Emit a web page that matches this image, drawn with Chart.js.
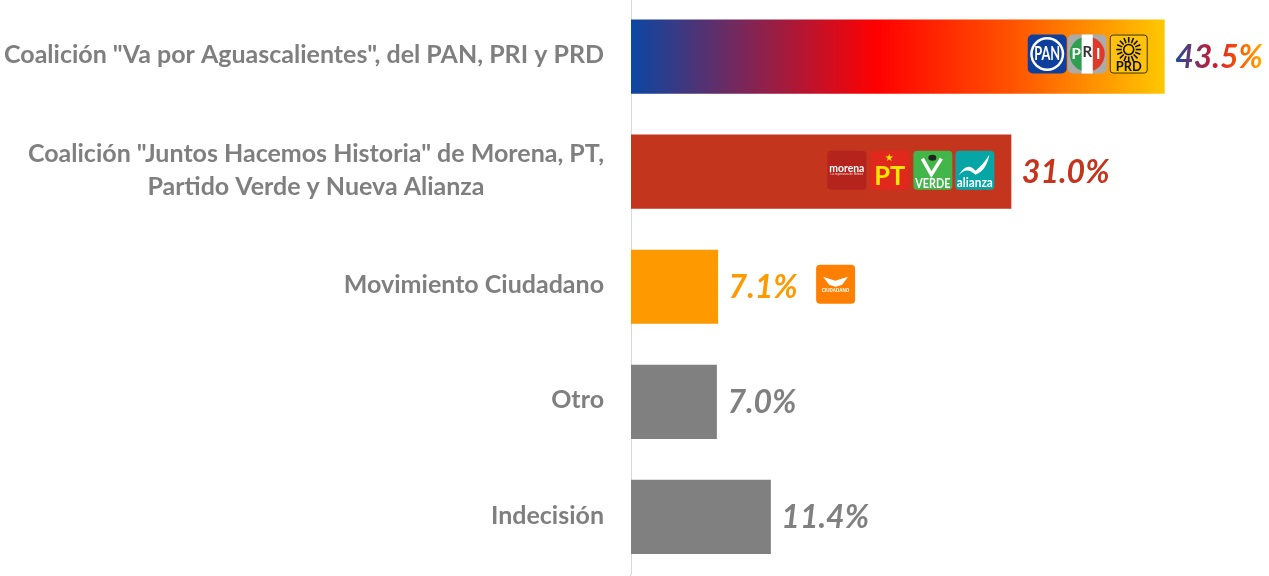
<!DOCTYPE html>
<html><head><meta charset="utf-8">
<style>html,body{margin:0;padding:0;background:#fff;overflow:hidden;width:1269px;height:576px}canvas{position:absolute;left:0;top:-1px}</style>
<script src="https://cdn.jsdelivr.net/npm/chart.js@4"></script></head>
<body><canvas id="c" width="1269" height="578"></canvas>
<script>
const categories = [
  ['Coalición "Va por Aguascalientes", del PAN, PRI y PRD'],
  ['Coalición "Juntos Hacemos Historia" de Morena, PT,', 'Partido Verde y Nueva Alianza'],
  ['Movimiento Ciudadano'],
  ['Otro'],
  ['Indecisión']
];
const values = [43.5, 31.0, 7.1, 7.0, 11.4];
const valueLabels = ['43.5%', '31.0%', '7.1%', '7.0%', '11.4%'];
const barColors = [null, '#c4351e', '#ff9900', '#808080', '#808080'];

const FONT = 'Lato, Carlito, "Open Sans", sans-serif';

function rr(c, x, y, w, h, r, fill) {
  c.beginPath(); c.roundRect(x, y, w, h, r); c.fillStyle = fill; c.fill();
}
function txt(c, s, x, y, font, color, maxW) {
  c.font = font; c.fillStyle = color; c.textAlign = 'center'; c.textBaseline = 'middle';
  if (maxW) c.fillText(s, x, y, maxW); else c.fillText(s, x, y);
}
const logos = {
  pan(c, x, y) {
    rr(c, x, y, 39, 39, 5, '#0f3f9c');
    c.beginPath(); c.arc(x + 19.5, y + 19.5, 17, 0, 7); c.fillStyle = '#fff'; c.fill();
    c.beginPath(); c.arc(x + 19.5, y + 19.5, 14.5, 0, 7); c.fillStyle = '#0f3f9c'; c.fill();
    txt(c, 'PAN', x + 19.5, y + 20, 'bold 18px Lato', '#fff', 26);
  },
  pri(c, x, y) {
    rr(c, x, y, 39, 39, 5, '#ababab');
    c.save(); c.beginPath(); c.arc(x + 19.5, y + 19.5, 17.5, 0, 7); c.clip();
    c.fillStyle = '#2e9e4f'; c.fillRect(x, y, 14, 39);
    c.fillStyle = '#dd3a2a'; c.fillRect(x + 25, y, 14, 39);
    c.restore();
    c.fillStyle = '#fff'; c.fillRect(x + 14, y, 11, 39);
    txt(c, 'P', x + 8.5, y + 20, 'bold 15px Lato', '#fff');
    txt(c, 'R', x + 19.5, y + 18, 'bold 15px Lato', '#333');
    txt(c, 'I', x + 30.5, y + 20, 'bold 15px Lato', '#fff');
  },
  prd(c, x, y) {
    rr(c, x, y, 38, 39, 3, '#ffc20e');
    c.strokeStyle = '#3a3000'; c.lineWidth = 1; c.beginPath(); c.roundRect(x + .5, y + .5, 37, 38, 3); c.stroke();
    const cx = x + 19, cy = y + 15;
    c.strokeStyle = '#111'; c.lineWidth = 1.6;
    for (let i = 0; i < 16; i++) {
      const a = i * Math.PI / 8;
      c.beginPath(); c.moveTo(cx + 7 * Math.cos(a), cy + 7 * Math.sin(a)); c.lineTo(cx + 12.5 * Math.cos(a), cy + 12.5 * Math.sin(a)); c.stroke();
    }
    c.beginPath(); c.arc(cx, cy, 5, 0, 7); c.stroke();
    txt(c, 'PRD', x + 19, y + 32, 'bold 13px Lato', '#111', 26);
  },
  morena(c, x, y) {
    rr(c, x, y, 39, 39, 4, '#b5241c');
    txt(c, 'morena', x + 19.5, y + 18, 'bold 11px Lato', '#fff', 35);
    txt(c, 'La esperanza de México', x + 19.5, y + 24, '3px "Liberation Sans"', '#f2d5d0');
  },
  pt(c, x, y) {
    rr(c, x, y, 39, 39, 4, '#e0281c');
    txt(c, '★', x + 19, y + 8, '10px "DejaVu Sans"', '#ffe600');
    txt(c, 'PT', x + 19.5, y + 26, 'bold 26px Lato', '#ffe600', 31);
  },
  verde(c, x, y) {
    rr(c, x, y, 39, 39, 4, '#43b649');
    c.strokeStyle = '#fff'; c.lineWidth = 3.5;
    c.beginPath(); c.moveTo(x + 9, y + 8); c.lineTo(x + 18, y + 24); c.lineTo(x + 28, y + 8); c.stroke();
    c.fillStyle = '#222'; c.beginPath(); c.ellipse(x + 19, y + 7, 4, 3, 0, 0, 7); c.fill();
    txt(c, 'VERDE', x + 19.5, y + 32.5, 'bold 14px Lato', '#fff', 35);
  },
  alianza(c, x, y) {
    rr(c, x, y, 39, 39, 4, '#06a6a6');
    c.fillStyle = '#fff';
    c.beginPath(); c.moveTo(x + 3, y + 25); c.quadraticCurveTo(x + 12, y + 10, x + 20, y + 20);
    c.quadraticCurveTo(x + 27, y + 15, x + 34, y + 4); c.quadraticCurveTo(x + 31, y + 20, x + 20, y + 24);
    c.quadraticCurveTo(x + 11, y + 15, x + 3, y + 25); c.fill();
    txt(c, 'alianza', x + 19.5, y + 32, 'bold 13px Lato', '#fff', 36);
  },
  mc(c, x, y) {
    rr(c, x, y, 39, 39, 4, '#ff8000');
    c.fillStyle = '#fff';
    c.beginPath(); c.moveTo(x + 7, y + 12); c.lineTo(x + 19, y + 16); c.lineTo(x + 32, y + 12); c.lineTo(x + 26, y + 20); c.lineTo(x + 19.5, y + 22); c.lineTo(x + 13, y + 20); c.fill();
    txt(c, 'CIUDADANO', x + 19.5, y + 26, 'bold 4.5px "Liberation Sans"', '#fff');
  }
};
// logos per bar: [name, offset from bar end (px)]
const logoSets = [
  [['pan', -137], ['pri', -97], ['prd', -55]],
  [['morena', -184], ['pt', -141], ['verde', -98], ['alianza', -56]],
  [['mc', 98]],
  [],
  []
];
const logoRaise = [22, 21, 22, 0, 0];

const overlay = {
  id: 'overlay',
  afterDatasetsDraw(chart) {
    const c = chart.ctx, ys = chart.scales.y, meta = chart.getDatasetMeta(0);
    c.save();
    c.fillStyle = '#d9d9d9'; c.fillRect(chart.chartArea.left - 1, chart.chartArea.bottom, 1, 3);
    categories.forEach((lines, i) => {
      const cy = ys.getPixelForTick(i);
      const f = 'bold 25px ' + FONT;
      c.font = f;
      const w = Math.max(...lines.map(l => c.measureText(l).width));
      const cx = chart.chartArea.left - 27 - w / 2;
      const lh = 33;
      lines.forEach((l, k) => txt(c, l, cx, cy - 1.5 + (k - (lines.length - 1) / 2) * lh, f, '#7f7f7f'));

      const el = meta.data[i];
      logoSets[i].forEach(([n, off]) => logos[n](c, el.x + off, cy - logoRaise[i]));

      const vf = 'italic bold 32px ' + FONT;
      c.font = vf; c.textAlign = 'left'; c.textBaseline = 'middle';
      const tx = el.x + 10.5, tw = c.measureText(valueLabels[i]).width;
      let fill = barColors[i];
      if (fill === null) {
        fill = c.createLinearGradient(tx, 0, tx + tw, 0);
        fill.addColorStop(0, '#1f4a9c');
        fill.addColorStop(.45, '#d01a30');
        fill.addColorStop(.75, '#ff5a00');
        fill.addColorStop(1, '#ffb000');
      }
      c.fillStyle = fill;
      c.fillText(valueLabels[i], tx, cy + 1);
    });
    c.restore();
  }
};

function barFill(ctx) {
  const col = barColors[ctx.dataIndex];
  if (col) return col;
  const a = ctx.chart.chartArea;
  if (!a) return '#ff0000';
  const x0 = a.left, x1 = ctx.chart.scales.x.getPixelForValue(values[ctx.dataIndex]);
  const g = ctx.chart.ctx.createLinearGradient(x0, 0, x1, 0);
  g.addColorStop(0, '#0b47a3');
  g.addColorStop(.46, '#ff0000');
  g.addColorStop(.72, '#ff5500');
  g.addColorStop(1, '#ffc800');
  return g;
}

new Chart(document.getElementById('c'), {
  type: 'bar',
  data: { labels: categories, datasets: [{ data: values, backgroundColor: barFill, borderWidth: 0, categoryPercentage: 1, barPercentage: 0.645 }] },
  options: {
    indexAxis: 'y', responsive: false, animation: false,
    layout: { padding: { left: 631, right: 0, top: 0, bottom: 2.5 } },
    plugins: { legend: { display: false }, tooltip: { enabled: false } },
    scales: {
      x: { display: false, min: 0, max: 52 },
      y: { grid: { display: false, drawTicks: false }, border: { display: true, color: '#d9d9d9', width: 1 }, ticks: { display: false } }
    }
  },
  plugins: [overlay]
});
</script></body></html>
